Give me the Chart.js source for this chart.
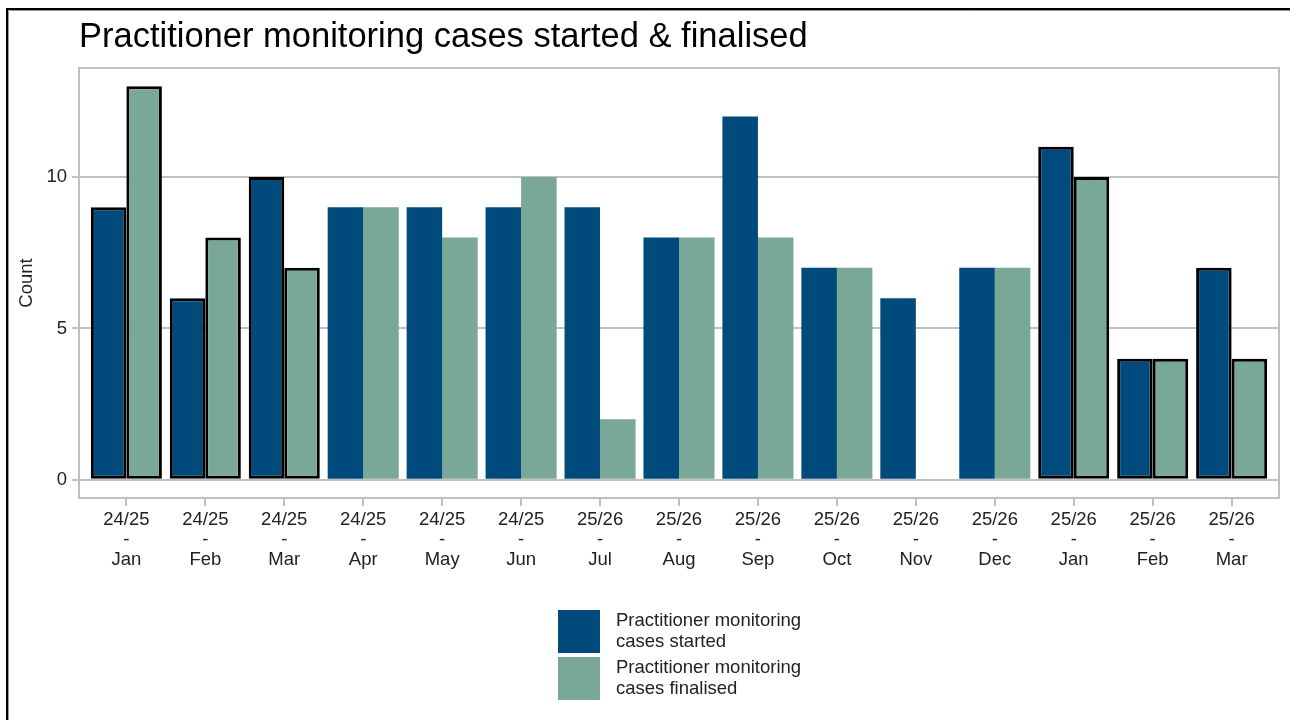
<!DOCTYPE html>
<html>
<head>
<meta charset="utf-8">
<script src="https://cdn.jsdelivr.net/npm/chart.js@4.4.1/dist/chart.umd.min.js"></script>
<style>
  html, body { margin: 0; padding: 0; background: #fff; }
</style>
</head>
<body>
<canvas id="cases" width="1290" height="720"></canvas>
<script>
// values
const years = ['24/25', '24/25', '24/25', '24/25', '24/25', '24/25', '25/26', '25/26',
               '25/26', '25/26', '25/26', '25/26', '25/26', '25/26', '25/26'];
const months = ['Jan', 'Feb', 'Mar', 'Apr', 'May', 'Jun', 'Jul', 'Aug',
                'Sep', 'Oct', 'Nov', 'Dec', 'Jan', 'Feb', 'Mar'];
const started   = [9, 6, 10, 9, 9, 9, 9, 8, 12, 7, 6, 7, 11, 4, 7];
const finalised = [13, 8, 7, 9, 8, 10, 2, 8, 8, 7, 0, 7, 10, 4, 4];
const seriesNames = ['Practitioner monitoring cases started', 'Practitioner monitoring cases finalised'];
const yTicks = [0, 5, 10];
const outlinedMonths = ['Jan', 'Feb', 'Mar'];

const FONT = '"Liberation Sans", Arial, sans-serif';
const BLUE = '#004a7c';
const GREEN = '#7aa898';
const GRID = '#c0c0c0';

const borderWidths = months.map(m => outlinedMonths.includes(m) ? 3 : 0);

function points(values) {
  return values.map((v, i) => ({ x: i + 1, y: v }));
}

function wrap(ctx, text, maxW) {
  const words = text.split(' ');
  const lines = [];
  let line = '';
  words.forEach(w => {
    const test = line ? line + ' ' + w : w;
    if (ctx.measureText(test).width > maxW && line) {
      lines.push(line);
      line = w;
    } else {
      line = test;
    }
  });
  lines.push(line);
  return lines;
}

const decor = {
  id: 'decor',
  beforeDraw(chart) {
    const ctx = chart.ctx;
    ctx.save();
    ctx.fillStyle = '#fff';
    ctx.fillRect(0, 0, chart.width, chart.height);
    // outer frame (top + left)
    ctx.strokeStyle = '#999';
    ctx.lineWidth = 1;
    ctx.beginPath();
    ctx.moveTo(8.5, chart.height);
    ctx.lineTo(8.5, 10.5);
    ctx.lineTo(chart.width, 10.5);
    ctx.stroke();
    ctx.strokeStyle = '#000';
    ctx.lineWidth = 2;
    ctx.beginPath();
    ctx.moveTo(7, chart.height);
    ctx.lineTo(7, 9);
    ctx.lineTo(chart.width, 9);
    ctx.stroke();
    ctx.restore();
  },
  beforeDatasetsDraw(chart) {
    const { ctx, chartArea: a } = chart;
    ctx.save();
    ctx.strokeStyle = GRID;
    ctx.lineWidth = 2;
    ctx.strokeRect(a.left, a.top, a.right - a.left, a.bottom - a.top);
    ctx.restore();
  },
  afterDraw(chart) {
    const ctx = chart.ctx;
    ctx.save();
    // title
    ctx.fillStyle = '#000';
    ctx.font = '34.5px ' + FONT;
    ctx.textAlign = 'left';
    ctx.textBaseline = 'alphabetic';
    ctx.fillText('Practitioner monitoring cases started & finalised', chart.chartArea.left, 47);

    // legend
    ctx.font = '18.5px ' + FONT;
    ctx.textBaseline = 'middle';
    chart.data.datasets.forEach((ds, i) => {
      const bx = 558, by = 610 + i * 47, size = 42;
      ctx.fillStyle = ds.backgroundColor;
      ctx.fillRect(bx, by, size, 43);
      const lines = wrap(ctx, ds.label, 195);
      const lh = 20.5;
      const cy = by + 21.5 - (lines.length - 1) * lh / 2;
      ctx.fillStyle = '#222';
      lines.forEach((l, j) => ctx.fillText(l, 616, cy + j * lh));
    });
    ctx.restore();
  }
};

new Chart(document.getElementById('cases'), {
  type: 'bar',
  data: {
    datasets: [
      {
        label: seriesNames[0],
        data: points(started),
        backgroundColor: BLUE,
        borderColor: '#000',
        borderWidth: borderWidths,
        borderSkipped: false,
        categoryPercentage: 0.9,
        barPercentage: 1
      },
      {
        label: seriesNames[1],
        data: points(finalised),
        backgroundColor: GREEN,
        borderColor: '#000',
        borderWidth: borderWidths,
        borderSkipped: false,
        categoryPercentage: 0.9,
        barPercentage: 1
      }
    ]
  },
  options: {
    responsive: false,
    animation: false,
    layout: { padding: { top: 68, right: 11, bottom: 122, left: 0 } },
    plugins: {
      legend: { display: false },
      tooltip: { enabled: false },
      title: { display: false }
    },
    scales: {
      x: {
        type: 'linear',
        min: 0.4,
        max: 15.6,
        offset: false,
        afterBuildTicks: s => { s.ticks = months.map((_, i) => ({ value: i + 1 })); },
        afterFit: s => { s.height = 100; },
        grid: { offset: false, drawOnChartArea: false, drawTicks: true, tickLength: 8, color: GRID, lineWidth: 2 },
        border: { display: false },
        ticks: {
          autoSkip: false,
          maxRotation: 0,
          padding: 4,
          color: '#222',
          font: { family: FONT, size: 18.5, lineHeight: 1.08 },
          callback: v => [years[v - 1], '-', months[v - 1]]
        }
      },
      y: {
        min: -0.6,
        max: 13.6,
        afterBuildTicks: s => { s.ticks = yTicks.map(v => ({ value: v })); },
        afterFit: s => { s.width = 79; },
        grid: { color: GRID, lineWidth: 2, tickLength: 7 },
        border: { display: false },
        ticks: { padding: 5, color: '#222', font: { family: FONT, size: 18.5 } },
        title: {
          display: true,
          text: 'Count',
          color: '#222',
          padding: { top: 16, bottom: 0 },
          font: { family: FONT, size: 18.5, lineHeight: 1.2 }
        }
      }
    }
  },
  plugins: [decor]
});
</script>
</body>
</html>
